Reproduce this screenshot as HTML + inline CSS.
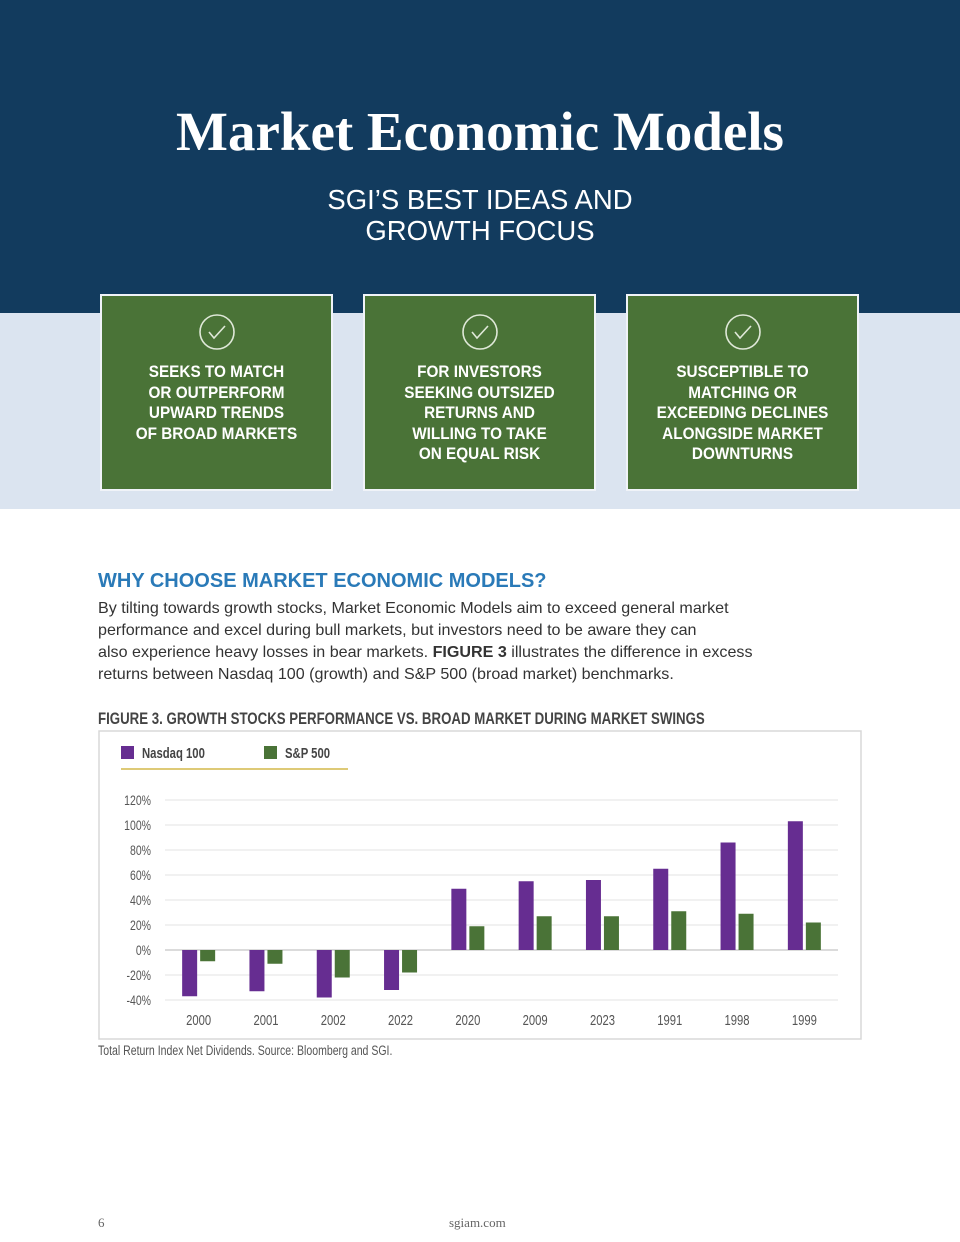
<!DOCTYPE html>
<html><head><meta charset="utf-8">
<style>
*{margin:0;padding:0;box-sizing:border-box}
body{width:960px;height:1242px;background:#fff;position:relative;overflow:hidden;font-family:"Liberation Sans",sans-serif}
.abs{position:absolute}
.card{position:absolute;top:294px;width:233px;height:197px;background:#4a7337;border:2px solid #f0f3f8;color:#fff;text-align:center}
.card .t{position:absolute;left:-20px;right:-20px;font-weight:bold;font-size:17px;line-height:20.5px;transform:scaleX(0.9)}
.card svg{position:absolute;left:50%;margin-left:-19px;top:17px}
.cond{transform-origin:left top;white-space:nowrap}
</style></head><body>
<div class="abs" style="left:0;top:0;width:960px;height:313px;background:#123b5e"></div>
<div class="abs" style="left:0;top:313px;width:960px;height:196px;background:#dbe4f0"></div>
<div class="abs" style="left:0;top:100px;width:960px;text-align:center;color:#fff;font-family:'Liberation Serif',serif;font-weight:bold;font-size:55px">Market Economic Models</div>
<div class="abs" style="left:0;top:184px;width:960px;text-align:center;color:#fff;font-size:27.5px;line-height:31px">SGI’S BEST IDEAS AND<br>GROWTH FOCUS</div>

<div class="card" style="left:100px"><svg width="38" height="38"><circle cx="19" cy="19" r="17" fill="none" stroke="#dfe8d8" stroke-width="1.6"/><path d="M11 19 l5 6 l11 -12" fill="none" stroke="#dfe8d8" stroke-width="1.6"/></svg><div class="t" style="top:66px">SEEKS TO MATCH<br>OR OUTPERFORM<br>UPWARD TRENDS<br>OF BROAD MARKETS</div></div>
<div class="card" style="left:363px"><svg width="38" height="38"><circle cx="19" cy="19" r="17" fill="none" stroke="#dfe8d8" stroke-width="1.6"/><path d="M11 19 l5 6 l11 -12" fill="none" stroke="#dfe8d8" stroke-width="1.6"/></svg><div class="t" style="top:66px">FOR INVESTORS<br>SEEKING OUTSIZED<br>RETURNS AND<br>WILLING TO TAKE<br>ON EQUAL RISK</div></div>
<div class="card" style="left:626px"><svg width="38" height="38"><circle cx="19" cy="19" r="17" fill="none" stroke="#dfe8d8" stroke-width="1.6"/><path d="M11 19 l5 6 l11 -12" fill="none" stroke="#dfe8d8" stroke-width="1.6"/></svg><div class="t" style="top:66px">SUSCEPTIBLE TO<br>MATCHING OR<br>EXCEEDING DECLINES<br>ALONGSIDE MARKET<br>DOWNTURNS</div></div>

<div class="abs" style="left:98px;top:570px;color:#2a7ab8;font-weight:bold;font-size:20px">WHY CHOOSE MARKET ECONOMIC MODELS?</div>
<div class="abs" style="left:98px;top:597px;width:700px;color:#333;font-size:16.1px;line-height:22px;white-space:nowrap">By tilting towards growth stocks, Market Economic Models aim to exceed general market<br>performance and excel during bull markets, but investors need to be aware they can<br>also experience heavy losses in bear markets. <b>FIGURE 3</b> illustrates the difference in excess<br>returns between Nasdaq 100 (growth) and S&amp;P 500 (broad market) benchmarks.</div>
<div class="abs cond" style="left:98px;top:709px;color:#444;font-weight:bold;font-size:17px;transform:scaleX(0.78)">FIGURE 3. GROWTH STOCKS PERFORMANCE VS. BROAD MARKET DURING MARKET SWINGS</div>

<svg class="abs" style="left:0;top:0" width="960" height="1242">
<rect x="99" y="731" width="762" height="308" fill="#fff" stroke="#d8d8d8" stroke-width="1.5"/>
<rect x="121" y="746" width="13" height="13" fill="#662d91"/>
<text transform="translate(142,758) scale(0.78,1)" font-weight="bold" font-size="14.5" fill="#444">Nasdaq 100</text>
<rect x="264" y="746" width="13" height="13" fill="#4a7337"/>
<text transform="translate(285,758) scale(0.78,1)" font-weight="bold" font-size="14.5" fill="#444">S&amp;P 500</text>
<line x1="121" y1="769" x2="348" y2="769" stroke="#d4b84a" stroke-width="1.5"/>
<g id="plot"></g>
</svg>

<div class="abs cond" style="left:98px;top:1043px;color:#555;font-size:13.5px;transform:scaleX(0.78)">Total Return Index Net Dividends. Source: Bloomberg and SGI.</div>
<div class="abs" style="left:98px;top:1215px;color:#666;font-family:'Liberation Serif',serif;font-size:13px">6</div>
<div class="abs" style="left:449px;top:1215px;color:#666;font-family:'Liberation Serif',serif;font-size:13px">sgiam.com</div>

<script>
const categories = ["2000","2001","2002","2022","2020","2009","2023","1991","1998","1999"];
const nasdaq = [-37,-33,-38,-32,49,55,56,65,86,103];
const sp500 = [-9,-11,-22,-18,19,27,27,31,29,22];
const yTicks = [-40,-20,0,20,40,60,80,100,120];
const yTickLabels = ["-40%","-20%","0%","20%","40%","60%","80%","100%","120%"];

const NS="http://www.w3.org/2000/svg";
const g=document.getElementById('plot');
const x0=165,x1=838,yZero=950,pxPer=1.25;
const y=v=>yZero-v*pxPer;
const band=(x1-x0)/categories.length;
const bx=i=>x0+band*i+band/2;
function mk(t,a){const e=document.createElementNS(NS,t);for(const k in a)e.setAttribute(k,a[k]);g.appendChild(e);return e;}
yTicks.forEach((v,i)=>{
  const l=mk('line',{x1:x0,x2:x1,y1:y(v),y2:y(v),stroke:v===0?'#cfcfcf':'#e3e3e3','stroke-width':v===0?1.5:1});
  
  
  const t=mk('text',{transform:'translate(151,'+(y(v)+5)+') scale(0.75,1)','text-anchor':'end','font-size':14,fill:'#555'});
  t.textContent=yTickLabels[i];
  
  
});
const bw=15;
categories.forEach((c,i)=>{
  const cx=bx(i);
  const a=nasdaq[i],b=sp500[i];
  const r1=mk('rect',{x:cx-bw-1.5,y:Math.min(y(a),yZero),width:bw,height:Math.abs(a)*pxPer,fill:'#662d91'});
  
  
  const r2=mk('rect',{x:cx+1.5,y:Math.min(y(b),yZero),width:bw,height:Math.abs(b)*pxPer,fill:'#4a7337'});
  
  
  const t=mk('text',{transform:'translate('+cx+',1025) scale(0.75,1)','text-anchor':'middle','font-size':15,fill:'#555'});
  t.textContent=c;
  
  
});
</script>
</body></html>
